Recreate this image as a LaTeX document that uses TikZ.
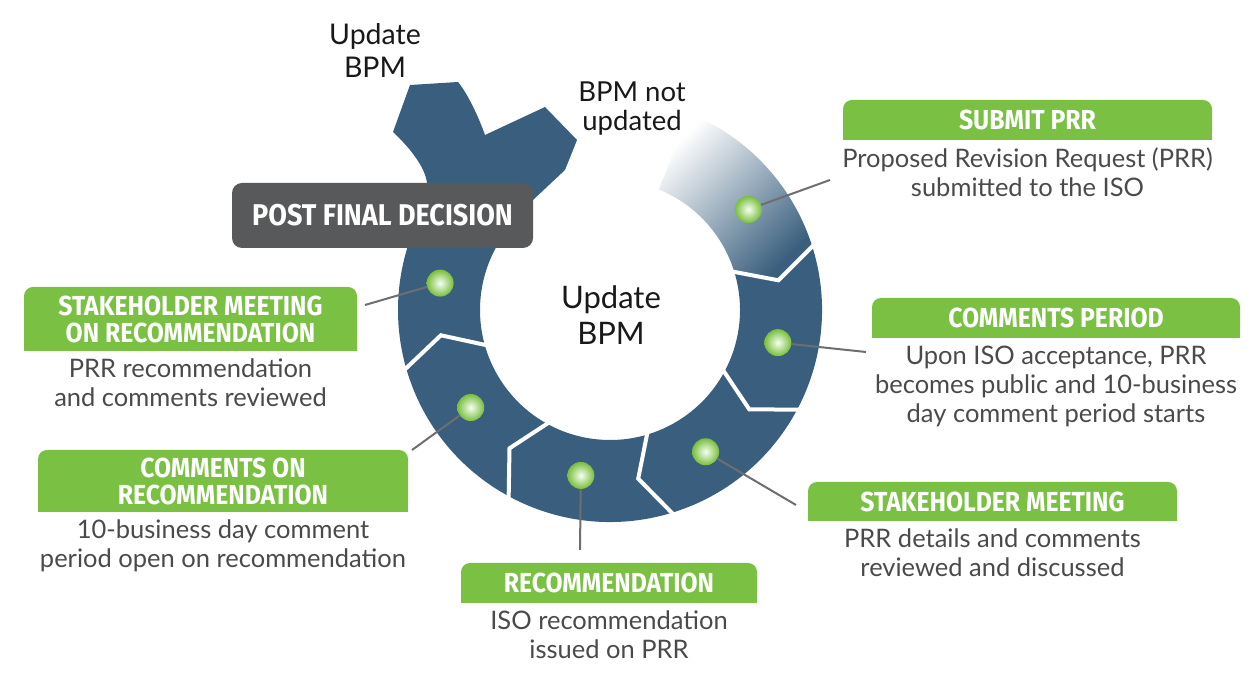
\documentclass[tikz,border=0pt]{standalone}
\usepackage{fontspec}
\setmainfont{Lato}
\newfontfamily\headfont[FakeStretch=0.9]{Fira Sans}
\usetikzlibrary{positioning,calc,backgrounds}

\definecolor{ringblue}{HTML}{3A5F7E}
\definecolor{prrgreen}{HTML}{7AC143}
\definecolor{dotgreen}{HTML}{7ABE3A}
\definecolor{decgray}{HTML}{58595B}
\definecolor{bodygray}{HTML}{4A4A4C}
\definecolor{linegray}{HTML}{6D6E71}

\begin{document}
\begin{tikzpicture}
[
x=1pt, y=1pt,
every node/.style={
	inner sep=0pt,
	outer sep=0pt},
head/.style={
	font=\headfont\bfseries\fontsize{27.5}{27}\selectfont,
	text=white,
	align=center},
desc/.style={
	font=\fontsize{25.5}{29}\selectfont,
	text=bodygray,
	align=center},
bpm/.style={
	font=\fontsize{28.5}{33}\selectfont,
	text=black!90,
	align=center},
dot/.style={
	circle,
	minimum size=27pt,
	inner color=green!4!white,
	outer color=dotgreen},
conn/.style={
	line width=2pt,
	draw=linegray},
gap/.style={
	line width=4pt,
	draw=white,
	line join=miter}
]
\useasboundingbox (0,0) rectangle (1249,674);

%radii of the ring
\def\rin{130pt}
\def\rmid{171pt}
\def\rout{212pt}

\coordinate (C) at (610,364);

%ring
\fill[ringblue] ($(C)+(18:\rout)$) arc[start angle=18, end angle=-232, radius=\rout]
	-- ($(C)+(-232:\rin)$) arc[start angle=-232, end angle=18, radius=\rin] -- cycle;

%faded first step
\shade[top color=white, bottom color=ringblue, shading angle=45]
	($(C)+(18:\rout)$) -- ($(C)+(10:\rmid)$) -- ($(C)+(18:\rin)$)
	arc[start angle=18, end angle=68, radius=\rin]
	-- ($(C)+(68:\rout)$) arc[start angle=68, end angle=18, radius=\rout] -- cycle;

%fork at the end of the cycle
\fill[ringblue] ($(C)+(152:\rout)$) -- (427,491)
	.. controls (425,508) and (408,528) .. (393,542)
	-- (410,589) -- (458,592)
	.. controls (468,580) and (479,556) .. (485,539)
	-- (545,567) -- (577,534) -- (565,504) -- (533,474)
	-- ($(C)+(135:\rin)$) -- cycle;

%white gaps between steps
\foreach \b in {18,-27.5,-72.5,-118,-163.5}
	\draw[gap] ($(C)+(\b:126pt)$) -- ($(C)+(\b-8:\rmid)$) -- ($(C)+(\b:216pt)$);

%final decision
\node[fill=decgray, rounded corners=10pt, minimum width=301pt, minimum height=65pt,
	text=white, font=\headfont\bfseries\fontsize{30}{30}\selectfont]
	(post) at (382.5,458.5) {POST FINAL DECISION};

%texts round the fork and in the middle
\node[bpm] (tupd) at (375,623) {Update\\BPM};
\node[bpm, font=\fontsize{27.5}{29}\selectfont] (tnot) at (632,565) {BPM not\\updated};
\node[bpm, font=\fontsize{31}{36}\selectfont] (tmid) at (611,359) {Update\\BPM};

%step headers
\node[head, minimum width=369pt, minimum height=40pt] (hsub) at (1027.5,554) {SUBMIT PRR};
\node[head, minimum width=368pt, minimum height=40pt] (hcp) at (1056,356) {COMMENTS PERIOD};
\node[head, minimum width=369pt, minimum height=39pt] (hsm) at (992.5,172.5) {STAKEHOLDER MEETING};
\node[head, minimum width=296pt, minimum height=40pt] (hrec) at (609,91) {RECOMMENDATION};
\node[head, minimum width=370pt, minimum height=62pt] (hcor) at (223,193) {COMMENTS ON\\RECOMMENDATION};
\node[head, minimum width=333pt, minimum height=64pt] (hsor) at (190.5,355) {STAKEHOLDER MEETING\\ON RECOMMENDATION};

%step texts
\node[desc, below=8pt of hsub] (tsub) {Proposed Revision Request (PRR)\\submitted to the ISO};
\node[desc, below=8pt of hcp] (tcp) {Upon ISO acceptance, PRR\\becomes public and 10-business\\day comment period starts};
\node[desc, below=8pt of hsm] (tsm) {PRR details and comments\\reviewed and discussed};
\node[desc, below=8pt of hrec] (trec) {ISO recommendation\\issued on PRR};
\node[desc, below=8pt of hcor] (tcor) {10-business day comment\\period open on recommendation};
\node[desc, below=8pt of hsor] (tsor) {PRR recommendation\\and comments reviewed};

\begin{scope}[on background layer]
\foreach \h in {hsub,hcp,hsm,hrec,hcor,hsor}{
	\fill[prrgreen, rounded corners=9pt] (\h.south west) rectangle (\h.north east);
	\fill[prrgreen] (\h.south west) rectangle (\h.east);
}
\end{scope}

%dots on the ring
\node[dot] (bsub) at ($(C)+(36:\rmid)$) {};
\node[dot] (bcp) at ($(C)+(-11:\rmid)$) {};
\node[dot] (bsm) at ($(C)+(-56:\rmid)$) {};
\node[dot] (brec) at ($(C)+(-100:168pt)$) {};
\node[dot] (bcor) at ($(C)+(-145:170pt)$) {};
\node[dot] (bsor) at ($(C)+(171:172pt)$) {};

%free ends of the leaders
\coordinate (esub) at (830,494);
\coordinate (ecp) at (866,322);
\coordinate (esm) at (796,169);
\coordinate (erec) at (580,124);
\coordinate (ecor) at (412,224);
\coordinate (esor) at (365,369);

\draw[conn] (bsub) -- (esub);
\draw[conn] (bcp) -- (ecp);
\draw[conn] (bsm) -- (esm);
\draw[conn] (brec) -- (erec);
\draw[conn] (bcor) -- (ecor);
\draw[conn] (bsor) -- (esor);

\end{tikzpicture}
\end{document}
